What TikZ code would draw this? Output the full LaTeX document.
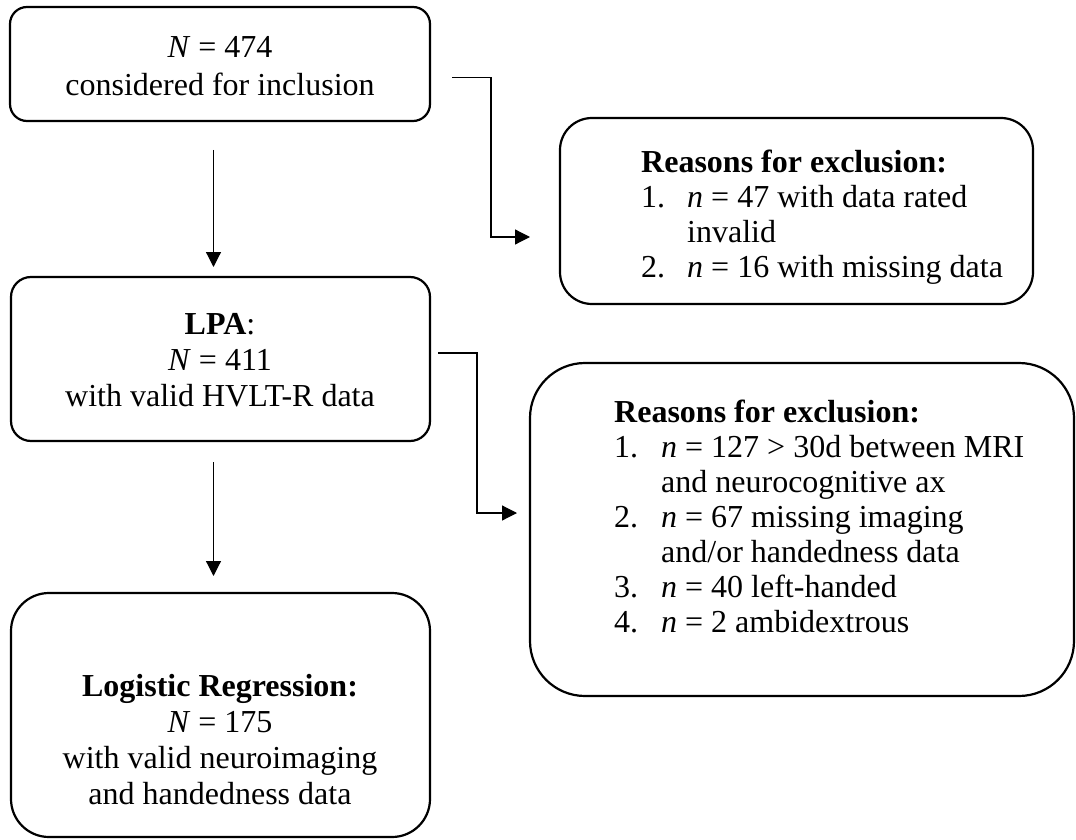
\documentclass[tikz,border=0pt]{standalone}
\usepackage{fontspec}
\setmainfont{Liberation Serif}
\usetikzlibrary{arrows.meta}
\begin{document}
\begin{tikzpicture}[x=1pt,y=-1pt,
  box/.style={draw, line width=2.2pt, inner sep=0pt},
  txt/.style={inner sep=0pt, font=\fontsize{32}{36}\selectfont},
  lst/.style={inner sep=0pt, font=\fontsize{32}{35}\selectfont, anchor=north west, align=left},
  arr/.style={line width=1.2pt, -{Triangle[length=15pt,width=15pt]}}]
\useasboundingbox (0,0) rectangle (1076,840);
% boxes
\node[box, rounded corners=17pt, minimum width=420pt, minimum height=114pt] (b1) at (220,64) {};
\node[box, rounded corners=20pt, minimum width=419pt, minimum height=164pt] (b3) at (220.5,359) {};
\node[box, rounded corners=38pt, minimum width=419pt, minimum height=244pt] (b5) at (220.5,715) {};
\node[box, rounded corners=32pt, minimum width=473pt, minimum height=186pt] (b2) at (796.5,211) {};
\node[box, rounded corners=55pt, minimum width=544pt, minimum height=333pt] (b4) at (802,529.5) {};
% texts
\node[txt, anchor=north, align=center] (t1) at (220,32)
  {\rule{0pt}{25pt}\textit{N} = 474\\[2pt]considered for inclusion};
\node[txt, anchor=north, align=center] (t3) at (220,309)
  {\rule{0pt}{25pt}\textbf{LPA}:\\\textit{N} = 411\\with valid HVLT-R data};
\node[txt, anchor=north, align=center] (t5) at (220,671)
  {\rule{0pt}{25pt}\textbf{Logistic Regression:}\\\textit{N} = 175\\with valid neuroimaging\\and handedness data};
\node[lst] (t2) at (641,147)
  {\rule{0pt}{25pt}\textbf{Reasons for exclusion:}\\\makebox[46pt][l]{1.}\textit{n} = 47 with data rated\\\hspace*{46pt}invalid\\\makebox[46pt][l]{2.}\textit{n} = 16 with missing data};
\node[lst] (t4) at (614,397)
  {\rule{0pt}{25pt}\textbf{Reasons for exclusion:}\\\makebox[47pt][l]{1.}\textit{n} = 127 > 30d between MRI\\\hspace*{47pt}and neurocognitive ax\\\makebox[47pt][l]{2.}\textit{n} = 67 missing imaging\\\hspace*{47pt}and/or handedness data\\\makebox[47pt][l]{3.}\textit{n} = 40 left-handed\\\makebox[47pt][l]{4.}\textit{n} = 2 ambidextrous};
% connector end points
\coordinate (d1s) at (213.5,150);
\coordinate (d1e) at (213.5,267);
\coordinate (d2s) at (213.5,462);
\coordinate (d2e) at (213.5,576);
\coordinate (e1s) at (452,77.5);
\coordinate (e1m) at (491,237);
\coordinate (e1e) at (530,237);
\coordinate (e2s) at (438,353);
\coordinate (e2m) at (477,513);
\coordinate (e2e) at (517,513);
% connectors
\draw[arr] (d1s) -- (d1e);
\draw[arr] (d2s) -- (d2e);
\draw[arr] (e1s) -| (e1m) -- (e1e);
\draw[arr] (e2s) -| (e2m) -- (e2e);
\end{tikzpicture}
\end{document}
